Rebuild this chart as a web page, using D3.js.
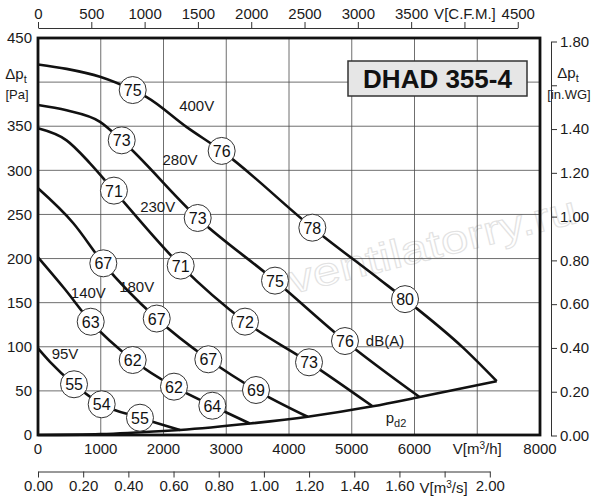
<!DOCTYPE html>
<html>
<head>
<meta charset="utf-8">
<script src="https://cdn.jsdelivr.net/npm/d3@7"></script>
<style>
  body { margin: 0; background: #fff; }
  svg { display: block; font-family: 'Liberation Sans', Arial, sans-serif; }
  .grid-line { stroke: #4a4a4a; stroke-width: 0.8; }
  .fan-curve { fill: none; stroke: #111; stroke-width: 2.6; }
  .tick-label { font-size: 15px; fill: #1a1a1a; }
  .db-circle { fill: #fff; stroke: #333; stroke-width: 1; }
  .db-label { font-size: 16px; fill: #111; text-anchor: middle; dominant-baseline: central; }
  .annotation-text { font-size: 15px; fill: #1a1a1a; text-anchor: middle; }
</style>
</head>
<body>
<div id="wrapper"></div>
<script>
// 1. Data (V in m3/h, dpt in Pa)

const curve400 = [[0, 420], [455, 415], [988, 406], [1509, 391], [1732, 383], [2370, 349], [2927, 322], [4372, 235], [5450, 176], [5849, 154], [6773, 99], [7310, 61]];
const curve280 = [[0, 374], [455, 368], [988, 355], [1334, 334], [2545, 246], [3777, 175], [4892, 106.5], [6080, 43]];
const curve230 = [[0, 347.6], [455, 334], [829, 308], [1210, 277], [2274, 192], [3299, 128.5], [4319, 82.4], [5333, 32.5]];
const curve180 = [[0, 279.6], [563, 240], [1041, 194.6], [1892, 132], [2714, 85.8], [3474, 51], [4298, 20.7]];
const curve140 = [[0, 201.4], [420, 166], [840, 128.4], [1509, 85], [2167, 54.8], [2778, 33.2], [3378, 13]];
const curve95 = [[0, 98.3], [191, 83], [574, 57.5], [1015, 34.8], [1625, 19.6], [2263, 5.7]];
const curvePd2 = [[0, 0], [1000, 1], [2000, 4.5], [2263, 5.7], [3378, 13], [4298, 20.7], [5333, 32.5], [6080, 43], [7310, 61]];

const fanCurves = [curve400, curve280, curve230, curve180, curve140, curve95, curvePd2];

// sound level markers dB(A): [V, dpt, value]
const soundLevels = [
  [1509, 391, '75'], [2927, 322, '76'], [4372, 235, '78'], [5849, 154, '80'],
  [1334, 334, '73'], [2545, 246, '73'], [3777, 175, '75'], [4892, 106.5, '76'],
  [1210, 277, '71'], [2274, 192, '71'], [3299, 128.5, '72'], [4319, 82.4, '73'],
  [1041, 194.6, '67'], [1892, 132, '67'], [2714, 85.8, '67'], [3474, 51, '69'],
  [840, 128.4, '63'], [1509, 85, '62'], [2167, 54.8, '62'], [2778, 33.2, '64'],
  [574, 57.5, '55'], [1015, 34.8, '54'], [1625, 19.6, '55'],
];

const voltageLabels = [
  [2529, 373, '400V'], [2263, 311.7, '280V'], [1907, 258.4, '230V'],
  [1573, 168, '180V'], [802, 161.7, '140V'], [430, 91.8, '95V'],
];

const flowTicks = [0, 1000, 2000, 3000, 4000, 5000, 6000, 7000, 8000];
const pressureTicks = [0, 50, 100, 150, 200, 250, 300, 350, 400, 450];
const cfmTicks = [0, 500, 1000, 1500, 2000, 2500, 3000, 3500, 4000, 4500];
const m3sTicks = [0, 0.2, 0.4, 0.6, 0.8, 1.0, 1.2, 1.4, 1.6, 1.8, 2.0];
const inwgTicks = [0, 0.2, 0.4, 0.6, 0.8, 1.0, 1.2, 1.4, 1.6, 1.8];

function drawChart() {
  // 2. Dimensions

  const dimensions = {
    width: 600,
    height: 500,
    margin: { top: 38, right: 60, bottom: 65, left: 38 },
  };
  dimensions.boundedWidth = dimensions.width - dimensions.margin.left - dimensions.margin.right;
  dimensions.boundedHeight = dimensions.height - dimensions.margin.top - dimensions.margin.bottom;

  const left = dimensions.margin.left;
  const right = left + dimensions.boundedWidth;
  const top = dimensions.margin.top;
  const bottom = top + dimensions.boundedHeight;

  // 3. Canvas

  const wrapper = d3.select('#wrapper')
    .append('svg')
    .attr('width', dimensions.width)
    .attr('height', dimensions.height);

  // 4. Scales

  const xScale = d3.scaleLinear().domain([0, 8000]).range([left, right]);
  const yScale = d3.scaleLinear().domain([0, 450]).range([bottom, top]);
  // 1 CFM = 1.699 m3/h, 1 m3/s = 3600 m3/h, 1 in.WG = 249.09 Pa
  const cfmScale = d3.scaleLinear().domain([0, 4500]).range([left, xScale(4500 * 1.699)]);
  const m3sScale = d3.scaleLinear().domain([0, 2]).range([left, xScale(7200)]);
  const inwgScale = d3.scaleLinear().domain([0, 1.8]).range([bottom + 0.5, 41.5]);

  // watermark
  wrapper.append('text')
    .text('ventilatorry.ru')
    .attr('transform', 'translate(292,294) rotate(-14)')
    .attr('textLength', 296)
    .attr('lengthAdjust', 'spacingAndGlyphs')
    .style('font-size', '40px')
    .style('fill', 'none')
    .style('stroke', '#e2e2e2')
    .style('stroke-width', 1);

  // 5. Grid

  const grid = wrapper.append('g');
  grid.selectAll('.vgrid')
    .data(flowTicks.slice(1, -1))
    .join('line')
    .attr('class', 'grid-line')
    .attr('x1', (d) => xScale(d)).attr('x2', (d) => xScale(d))
    .attr('y1', top).attr('y2', bottom);
  grid.selectAll('.hgrid')
    .data(pressureTicks.slice(1, -1))
    .join('line')
    .attr('class', 'grid-line')
    .attr('x1', left).attr('x2', right)
    .attr('y1', (d) => yScale(d)).attr('y2', (d) => yScale(d));

  // 6. Curves

  const lineGenerator = d3.line()
    .x((d) => xScale(d[0]))
    .y((d) => yScale(d[1]))
    .curve(d3.curveMonotoneX);

  wrapper.append('g')
    .selectAll('path')
    .data(fanCurves)
    .join('path')
    .attr('class', 'fan-curve')
    .attr('d', lineGenerator);

  // frame
  wrapper.append('rect')
    .attr('x', left).attr('y', top)
    .attr('width', dimensions.boundedWidth).attr('height', dimensions.boundedHeight)
    .style('fill', 'none').style('stroke', '#111').style('stroke-width', 2.8);

  // sound markers
  const markers = wrapper.append('g')
    .selectAll('g')
    .data(soundLevels)
    .join('g')
    .attr('transform', (d) => `translate(${xScale(d[0])},${yScale(d[1])})`);
  markers.append('circle').attr('class', 'db-circle').attr('r', 13.5);
  markers.append('text').attr('class', 'db-label').attr('y', 0.5).text((d) => d[2]);

  // voltage labels
  wrapper.append('g')
    .selectAll('text')
    .data(voltageLabels)
    .join('text')
    .attr('class', 'annotation-text')
    .attr('x', (d) => xScale(d[0]))
    .attr('y', (d) => yScale(d[1]))
    .attr('dy', '0.35em')
    .text((d) => d[2]);

  wrapper.append('text')
    .attr('class', 'annotation-text')
    .attr('x', 385).attr('y', 341).attr('dy', '0.35em')
    .text('dB(A)');

  const pd2 = wrapper.append('text')
    .attr('class', 'annotation-text')
    .attr('x', 396).attr('y', 423)
    .style('text-anchor', 'middle');
  pd2.append('tspan').text('p');
  pd2.append('tspan').attr('dy', 4).style('font-size', '11px').text('d2');

  // title box
  wrapper.append('rect')
    .attr('x', 348).attr('y', 61).attr('width', 179).attr('height', 35)
    .style('fill', '#e6e6e6').style('stroke', '#333').style('stroke-width', 1.5);
  wrapper.append('text')
    .attr('x', 437.5).attr('y', 79).attr('dy', '0.36em')
    .style('text-anchor', 'middle')
    .style('font-size', '26px').style('font-weight', 'bold').style('fill', '#111')
    .text('DHAD 355-4');

  // 7. Peripherals

  // left Pa labels
  wrapper.append('g')
    .selectAll('text')
    .data(pressureTicks.filter((d) => d !== 400))
    .join('text')
    .attr('class', 'tick-label')
    .attr('x', 32)
    .attr('y', (d) => yScale(d))
    .attr('dy', '0.35em')
    .style('text-anchor', 'end')
    .text((d) => d);

  const leftUnit = wrapper.append('text')
    .attr('class', 'tick-label').attr('x', 16).attr('y', 79)
    .style('text-anchor', 'middle');
  leftUnit.append('tspan').text('\u0394p');
  leftUnit.append('tspan').attr('dy', 4).style('font-size', '11px').text('t');
  wrapper.append('text')
    .attr('class', 'tick-label').attr('x', 17).attr('y', 99)
    .style('text-anchor', 'middle').style('font-size', '13px')
    .text('[Pa]');

  // bottom m3/h labels
  wrapper.append('g')
    .selectAll('text')
    .data(flowTicks)
    .join('text')
    .attr('class', 'tick-label')
    .attr('x', (d) => xScale(d))
    .attr('y', 454)
    .style('text-anchor', 'middle')
    .each(function (d) {
      const t = d3.select(this);
      if (d === 7000) {
        t.append('tspan').text('V[m');
        t.append('tspan').attr('dy', -5).style('font-size', '10px').text('3');
        t.append('tspan').attr('dy', 5).text('/h]');
      } else {
        t.text(d);
      }
    });

  // top CFM axis
  const cfmAxis = d3.axisTop(cfmScale)
    .tickValues(cfmTicks)
    .tickSize(6)
    .tickSizeOuter(0)
    .tickFormat((d) => (d === 4000 ? 'V[C.F.M.]' : d));
  const cfmGroup = wrapper.append('g').attr('transform', 'translate(0,28)').call(cfmAxis);

  // bottom m3/s axis
  const m3sAxis = d3.axisBottom(m3sScale)
    .tickValues(m3sTicks)
    .tickSize(6)
    .tickSizeOuter(0)
    .tickFormat((d) => (Math.abs(d - 1.8) < 1e-6 ? '' : d3.format('.2f')(d)));
  const m3sGroup = wrapper.append('g').attr('transform', 'translate(0,471.5)').call(m3sAxis);
  const m3sUnit = wrapper.append('text')
    .attr('class', 'tick-label')
    .attr('x', m3sScale(1.8) - 1).attr('y', 493)
    .style('text-anchor', 'middle');
  m3sUnit.append('tspan').text('V[m');
  m3sUnit.append('tspan').attr('dy', -5).style('font-size', '10px').text('3');
  m3sUnit.append('tspan').attr('dy', 5).text('/s]');

  // right in.WG axis
  const inwgAxis = d3.axisRight(inwgScale)
    .tickValues(inwgTicks)
    .tickSize(6)
    .tickSizeOuter(0)
    .tickFormat((d) => (Math.abs(d - 1.6) < 1e-6 ? '' : d3.format('.2f')(d)));
  const inwgGroup = wrapper.append('g').attr('transform', 'translate(551,0)').call(inwgAxis);

  [cfmGroup, m3sGroup, inwgGroup].forEach((g) => {
    g.selectAll('.domain').style('stroke', '#333');
    g.selectAll('.tick line').style('stroke', '#333');
    g.selectAll('.tick text')
      .style('font-size', '15px')
      .style('fill', '#1a1a1a')
      .style('font-family', "'Liberation Sans', Arial, sans-serif");
  });

  const rightUnit = wrapper.append('text')
    .attr('class', 'tick-label').attr('x', 568).attr('y', 78)
    .style('text-anchor', 'middle');
  rightUnit.append('tspan').text('\u0394p');
  rightUnit.append('tspan').attr('dy', 4).style('font-size', '11px').text('t');
  wrapper.append('text')
    .attr('class', 'tick-label').attr('x', 569).attr('y', 99)
    .style('text-anchor', 'middle').style('font-size', '13px')
    .text('[in.WG]');
}
drawChart();
</script>
</body>
</html>
